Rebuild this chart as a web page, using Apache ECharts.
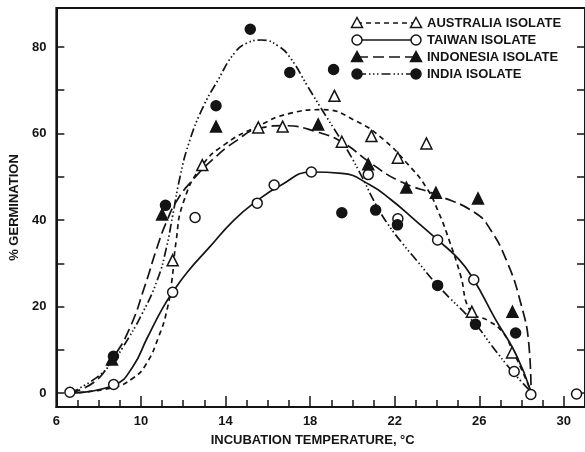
<!DOCTYPE html>
<html><head><meta charset="utf-8">
<script src="https://cdn.jsdelivr.net/npm/echarts@6/dist/echarts.min.js"></script>
<style>html,body{margin:0;padding:0;background:#fff}#c{width:585px;height:452px}</style>
</head><body><div id="c"></div>
<script>
const FONT = '"Liberation Sans", Arial, sans-serif';
const INK = '#141414';

// axis ticks / labels
const xLabelValues = [6, 10, 14, 18, 22, 26, 30];
const xTickValues = [6,7,8,9,10,11,12,13,14,15,16,17,18,19,20,21,22,23,24,25,26,27,28,29,30,31];
const yLabelValues = [0, 20, 40, 60, 80];
const yTickValues = [0, 10, 20, 30, 40, 50, 60, 70, 80];

const legendNames = ['AUSTRALIA ISOLATE', 'TAIWAN ISOLATE', 'INDONESIA ISOLATE', 'INDIA ISOLATE'];

// observed points
const ausX = [11.5, 12.9, 15.55, 16.7, 19.15, 19.5, 20.9, 22.15, 23.5, 25.65, 27.55];
const ausY = [30.7, 52.7, 61.4, 61.6, 68.7, 58.1, 59.4, 54.4, 57.7, 18.8, 9.4];

const twX = [6.64, 8.71, 11.5, 12.56, 15.5, 16.3, 18.06, 20.75, 22.15, 24.03, 25.74, 27.65, 28.44, 30.6];
const twY = [0.2, 2.0, 23.3, 40.6, 43.9, 48.1, 51.1, 50.5, 40.3, 35.4, 26.2, 5.0, -0.3, -0.2];

const indoX = [8.63, 11.0, 13.55, 18.38, 20.75, 22.55, 23.95, 25.94, 27.57];
const indoY = [7.8, 41.3, 61.6, 62.1, 52.9, 47.5, 46.3, 45.0, 18.8];

const indiaX = [8.7, 11.16, 13.55, 15.17, 17.04, 19.11, 19.5, 21.1, 22.13, 24.03, 25.82, 27.72];
const indiaY = [8.5, 43.4, 66.4, 84.1, 74.1, 74.8, 41.7, 42.3, 38.9, 24.9, 15.9, 13.9];

// fitted curves
const ausCurve = [[6.64,0],[8.7,1.3],[9.6,3.4],[10.22,6.5],[10.85,13.2],[11.24,19.4],[11.47,26.3],[11.66,35],[12.0,44],[12.9,52.6],[14.0,57.6],[15.5,61.6],[17.0,64.6],[18.6,65.5],[20.2,62.8],[21.45,58.7],[22.55,53.3],[23.5,47.5],[24.1,41.5],[24.6,35],[25.1,27.5],[25.6,18.8],[26.4,16.8],[27.1,14.1],[27.6,9.6],[28.0,5.5],[28.45,0.3]];
const twCurve = [[6.64,0],[8.74,1.9],[9.6,6],[10.3,12.8],[11.0,19.4],[11.5,23.3],[12.2,28],[13.2,33.5],[14.4,40],[15.5,44.5],[16.6,48],[18.06,51.1],[19.5,50.8],[20.8,48.2],[21.8,44.8],[23.0,39.8],[24.03,35.4],[25.04,30.9],[25.74,26.2],[26.76,17.1],[27.69,9.4],[28.45,0.3]];
const indoCurve = [[6.64,0],[7.8,2.6],[8.63,7.8],[9.45,14.8],[10.2,25],[10.75,33.5],[11.2,39.5],[11.7,44.5],[12.4,49],[13.4,54],[14.5,58.3],[15.6,61.2],[16.8,61.8],[18.3,60.4],[19.55,57.9],[20.83,53.3],[22.23,49.0],[24.1,45.6],[25.8,41.7],[26.5,38],[27.3,30.5],[27.95,21],[28.35,11],[28.45,0.3]];
const indiaCurve = [[6.64,0],[7.9,3.6],[8.67,7.3],[9.13,10.5],[10.07,18.5],[10.8,26.5],[11.2,33.5],[11.5,41],[11.85,50],[12.25,57.5],[12.88,65.5],[13.66,72.5],[14.44,78.7],[15.06,81],[15.68,81.6],[16.47,80.3],[17.09,77.3],[17.87,71],[18.65,64.8],[19.3,59.8],[19.9,55],[20.5,49.5],[21.1,43.7],[21.7,38.9],[22.4,34.4],[23.0,30.9],[24.03,24.9],[25.82,15.9],[26.6,10.9],[27.6,4.8],[28.45,0.3]];

const zip = (xs, ys) => xs.map((x, i) => [x, ys[i]]);

const dashAus = [5, 4];
const dashIndo = [11, 5];
const dashIndia = [9, 3, 1.5, 2.5, 1.5, 2.5, 1.5, 3];
const LW = 1.7;

function lineSeries(data, dash) {
  return {
    type: 'line', data: data, smooth: 0.5, showSymbol: false, symbol: 'none',
    lineStyle: { color: INK, width: LW, type: dash || 'solid' }, z: 2, silent: true
  };
}
function pointSeries(data, symbol, filled) {
  return {
    type: 'scatter', data: data, symbol: symbol, symbolSize: symbol === 'triangle' ? 11 : 10,
    itemStyle: { color: filled ? INK : '#fff', borderColor: INK, borderWidth: 1.5, opacity: 1 },
    z: 5, silent: true
  };
}

// legend built with graphics
const legendRowY = [23, 40, 57, 74];
const legendSym = ['tri-open', 'circ-open', 'tri-fill', 'circ-fill'];
const legendDash = [dashAus, null, dashIndo, dashIndia];
const gx1 = 357, gx2 = 416, tx = 427;
function marker(kind, cx, cy) {
  const filled = kind.indexOf('fill') >= 0;
  const style = { fill: filled ? INK : '#fff', stroke: INK, lineWidth: 1.5 };
  if (kind.indexOf('tri') === 0) {
    return { type: 'polygon', shape: { points: [[cx, cy - 5.5], [cx - 5.5, cy + 4.5], [cx + 5.5, cy + 4.5]] }, style: style, z: 10 };
  }
  return { type: 'circle', shape: { cx: cx, cy: cy, r: 5 }, style: style, z: 10 };
}
const graphics = [];
legendNames.forEach((name, i) => {
  const y = legendRowY[i];
  graphics.push({ type: 'line', shape: { x1: gx1, y1: y, x2: gx2, y2: y },
    style: { stroke: INK, lineWidth: LW, lineDash: legendDash[i] || null }, z: 9 });
  graphics.push(marker(legendSym[i], gx1, y));
  graphics.push(marker(legendSym[i], gx2, y));
  graphics.push({ type: 'text', x: tx, y: y, z: 10,
    style: { text: name, fill: INK, font: 'bold 13px ' + FONT, verticalAlign: 'middle', align: 'left' } });
});

const labelStyle = { color: INK, fontFamily: FONT, fontWeight: 'bold', fontSize: 13 };

const chart = echarts.init(document.getElementById('c'), null, { renderer: 'canvas' });
chart.setOption({
  animation: false,
  backgroundColor: '#fff',
  grid: { left: 53, top: 8, width: 533, height: 400, show: true, borderColor: INK, borderWidth: 2, backgroundColor: 'transparent' },
  xAxis: [{
    type: 'value', min: 6, max: 31,
    name: 'INCUBATION TEMPERATURE, °C', nameLocation: 'middle', nameGap: 27,
    nameTextStyle: { color: INK, fontFamily: FONT, fontWeight: 'bold', fontSize: 13, padding: [0, 16, 0, 0] },
    axisLine: { show: true, onZero: false, lineStyle: { color: INK, width: 2 } },
    axisTick: { show: true, inside: true, length: 7, customValues: xTickValues, lineStyle: { color: INK, width: 1.5 } },
    axisLabel: Object.assign({ customValues: xLabelValues, margin: 8 }, labelStyle),
    splitLine: { show: false }
  }, {
    type: 'value', min: 6, max: 31, position: 'bottom',
    axisLine: { show: false, onZero: false },
    axisTick: { show: true, inside: true, length: 11, customValues: xLabelValues, lineStyle: { color: INK, width: 1.5 } },
    axisLabel: { show: false }, splitLine: { show: false }
  }],
  yAxis: [{
    type: 'value', min: -3.2, max: 89,
    name: '% GERMINATION', nameLocation: 'middle', nameGap: 32, nameRotate: 90,
    nameTextStyle: { color: INK, fontFamily: FONT, fontWeight: 'bold', fontSize: 13 },
    axisLine: { show: true, onZero: false, lineStyle: { color: INK, width: 2 } },
    axisTick: { show: true, inside: true, length: 8, customValues: yTickValues, lineStyle: { color: INK, width: 1.5 } },
    axisLabel: Object.assign({ customValues: yLabelValues, margin: 10 }, labelStyle),
    splitLine: { show: false }
  }, {
    type: 'value', min: -3.2, max: 89, position: 'right',
    axisLine: { show: true, onZero: false, lineStyle: { color: INK, width: 2 } },
    axisTick: { show: true, inside: true, length: 8, customValues: yTickValues, lineStyle: { color: INK, width: 1.5 } },
    axisLabel: { show: false }, splitLine: { show: false }
  }],
  graphic: graphics,
  series: [
    lineSeries(ausCurve, dashAus),
    lineSeries(twCurve, null),
    lineSeries(indoCurve, dashIndo),
    lineSeries(indiaCurve, dashIndia),
    pointSeries(zip(ausX, ausY), 'triangle', false),
    pointSeries(zip(twX, twY), 'circle', false),
    pointSeries(zip(indoX, indoY), 'triangle', true),
    pointSeries(zip(indiaX, indiaY), 'circle', true)
  ]
});
</script></body></html>
